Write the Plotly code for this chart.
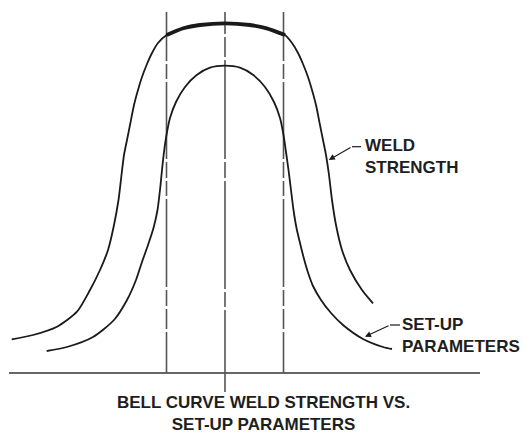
import plotly.graph_objects as go

# Weld strength curve (outer bell): set-up parameter vs. strength above baseline
weld_x = [11.7, 33, 57, 77, 90, 100, 108, 114, 118.5, 121.5, 124, 127, 130, 134, 138,
          142, 147, 152, 158, 166.7, 183.3, 200, 225, 250, 266.7, 285, 292, 298, 303,
          308, 312, 316, 320, 323, 326, 329, 332, 336, 342, 350, 362, 373]
weld_y = [33.7, 38, 46.3, 61.3, 83, 103, 123, 148, 173, 198, 218, 233, 248, 268, 283,
          296, 309, 320, 330, 338, 344.7, 348, 349.7, 348, 344.7, 338, 330, 320, 309,
          296, 283, 268, 248, 233, 218, 198, 173, 148, 123, 103, 83, 69.7]

# Set-up parameters curve (inner bell)
setup_x = [46.7, 67, 93, 114, 127, 136, 142, 148, 153.5, 157.5, 160, 162, 164, 166.5,
           170, 176, 185, 196.7, 210, 225, 240, 253.3, 265, 274, 280, 283.5, 286, 288.5,
           291, 293.5, 296.5, 300, 303.5, 307.5, 313, 321, 331, 343, 363, 383, 392]
setup_y = [22, 26, 36, 53, 73, 93, 111, 128, 145, 163, 183, 203, 221, 238,
           255, 271, 286, 298, 305.3, 307.3, 305.3, 298, 286, 271, 255, 238, 221, 203,
           183, 163, 145, 130, 116, 102, 87, 73, 60, 48, 34, 26, 24]

# Process window limits and optimum
window_x = [166.5, 283.5]
optimum_x = 225
top_y = 361
axis_x = [9, 480]

labels = ["WELD<br>STRENGTH", "SET-UP<br>PARAMETERS"]
caption = "BELL CURVE WELD STRENGTH VS.<br>SET-UP PARAMETERS"

INK = "#1a1a1a"
GREY = "#555555"
FONT = dict(family="Liberation Sans, Arial, sans-serif", size=17, color="#1e1e1e", weight="bold")
DASH_SIDE = "49px,3px,15px,3px,77px,3px,16px,3px,15px,3px,88px,3px,16px,3px,20px,3px,80px"
DASH_MID = "22px,3px,20px,3px,99px,3px,16px,3px,108px,3px,15px,3px,120px"
SMOOTH = 0.7

fig = go.Figure()

# baseline
fig.add_trace(go.Scatter(x=axis_x, y=[0, 0], mode="lines",
                         line=dict(color="#666666", width=2), hoverinfo="skip"))
# window limit lines
for wx in window_x:
    fig.add_trace(go.Scatter(x=[wx, wx], y=[top_y, 0], mode="lines",
                             line=dict(color=GREY, width=1.6, dash=DASH_SIDE), hoverinfo="skip"))
# optimum line, extends below the baseline
fig.add_trace(go.Scatter(x=[optimum_x, optimum_x], y=[top_y, -19], mode="lines",
                         line=dict(color=GREY, width=1.6, dash=DASH_MID), hoverinfo="skip"))

# curves
fig.add_trace(go.Scatter(x=weld_x, y=weld_y, mode="lines",
                         line=dict(color=INK, width=1.8, shape="spline", smoothing=SMOOTH),
                         hoverinfo="skip"))
plateau = [(x, y) for x, y in zip(weld_x, weld_y) if window_x[0] - 1 <= x <= window_x[1] + 2]
fig.add_trace(go.Scatter(x=[p[0] for p in plateau], y=[p[1] for p in plateau], mode="lines",
                         line=dict(color=INK, width=3.8, shape="spline", smoothing=SMOOTH),
                         hoverinfo="skip"))
fig.add_trace(go.Scatter(x=setup_x, y=setup_y, mode="lines",
                         line=dict(color=INK, width=1.8, shape="spline", smoothing=SMOOTH),
                         hoverinfo="skip"))

# leader stubs
fig.add_shape(type="line", x0=352, y0=226.3, x1=361, y1=226.3, line=dict(color=INK, width=1.2))
fig.add_shape(type="line", x0=390, y0=48, x1=400, y1=48, line=dict(color=INK, width=1.2))

# leader arrows
fig.add_annotation(x=328.8, y=213, ax=352, ay=226.3, axref="x", ayref="y", text="",
                   showarrow=True, arrowhead=2, arrowsize=1.1, arrowwidth=1.1, arrowcolor=INK,
                   standoff=0)
fig.add_annotation(x=365, y=36.3, ax=390, ay=48, axref="x", ayref="y", text="",
                   showarrow=True, arrowhead=2, arrowsize=1.1, arrowwidth=1.1, arrowcolor=INK,
                   standoff=0)

# labels
fig.add_annotation(x=363, y=216.5, text=labels[0], showarrow=False, xanchor="left",
                   yanchor="middle", align="left", font=FONT)
fig.add_annotation(x=400, y=37.7, text=labels[1], showarrow=False, xanchor="left",
                   yanchor="middle", align="left", font=FONT)

# caption below the axis
fig.add_annotation(x=263, y=-40.5, text=caption, showarrow=False, xanchor="center",
                   yanchor="middle", align="center", font=FONT)

fig.update_layout(
    width=524, height=433,
    margin=dict(l=0, r=0, t=0, b=0),
    paper_bgcolor="white", plot_bgcolor="white",
    showlegend=False,
    xaxis=dict(range=[0, 524], visible=False, fixedrange=True),
    yaxis=dict(range=[-60, 373], visible=False, fixedrange=True),
)

fig.write_html("out.html")
